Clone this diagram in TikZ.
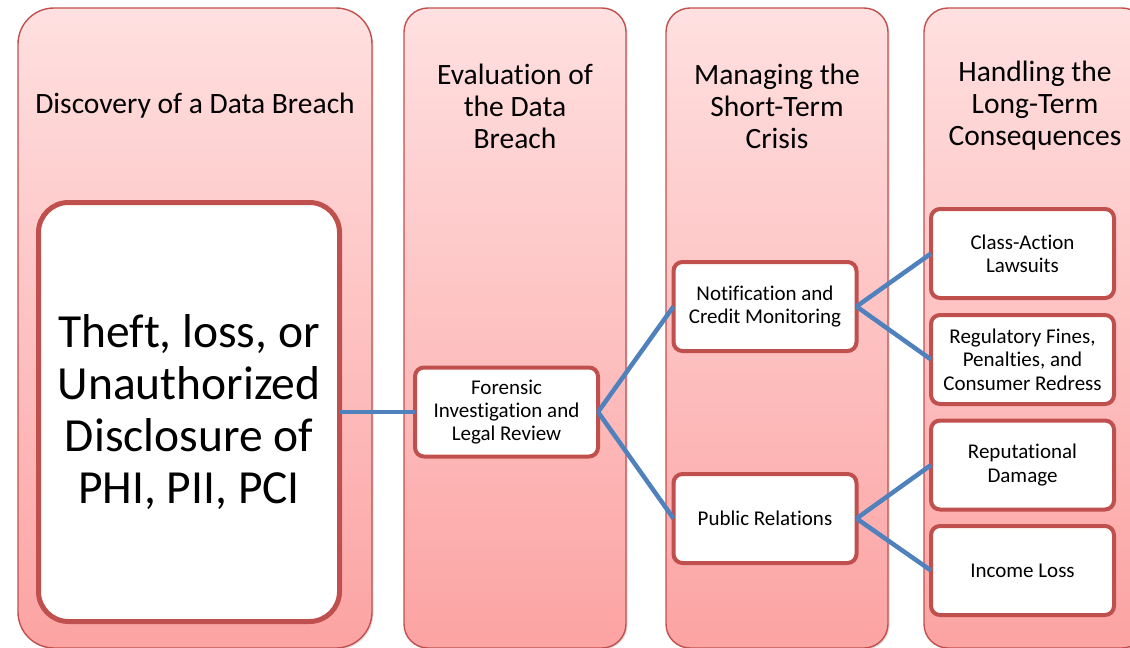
\documentclass[tikz,border=0pt]{standalone}
\usepackage{fontspec}
\setmainfont{Carlito}[Ligatures=CommonOff]
\usetikzlibrary{shadows}
\definecolor{bordred}{HTML}{C0504D}
\definecolor{toppink}{HTML}{FFE0E0}
\definecolor{botpink}{HTML}{FCA3A3}
\definecolor{linkblue}{HTML}{4F81BD}
\tikzset{
  colbox/.style={draw=bordred, line width=1.4pt, top color=toppink, bottom color=botpink,
    rounded corners=24pt, outer sep=0pt, inner sep=0pt,
    drop shadow={opacity=0.25, shadow xshift=1.5pt, shadow yshift=-1.5pt}},
  headtxt/.style={align=center, font=\fontsize{29.5}{32}\selectfont, inner sep=0pt},
  itembox/.style={draw=bordred, line width=4pt, fill=white, rounded corners=9pt,
    minimum width=183pt, minimum height=89pt, align=center, outer sep=0pt,
    font=\fontsize{21}{23.3}\selectfont},
  bigbox/.style={draw=bordred, line width=5pt, fill=white, rounded corners=30pt,
    minimum width=301pt, minimum height=419pt, align=center, outer sep=0pt,
    font=\fontsize{47.5}{52.3}\selectfont},
  link/.style={draw=linkblue, line width=4.5pt}
}
\begin{document}
\begin{tikzpicture}[x=1pt, y=-1pt]
\useasboundingbox (0,0) rectangle (1130,648);
\clip (0,0) rectangle (1130,648);
% columns
\node[colbox, rounded corners=36pt, minimum width=354pt, minimum height=640pt] (c1) at (195,328) {};
\node[colbox, minimum width=222pt, minimum height=640pt] (c2) at (515,328) {};
\node[colbox, minimum width=222pt, minimum height=640pt] (c3) at (777,328) {};
\node[colbox, minimum width=222pt, minimum height=640pt] (c4) at (1035,328) {};
% headers
\node[headtxt] (h1) at (195,106) {Discovery of a Data Breach};
\node[headtxt] (h2) at (515,106) {Evaluation of\\the Data\\Breach};
\node[headtxt] (h3) at (777,106) {Managing the\\Short-Term\\Crisis};
\node[headtxt] (h4) at (1035,106) {Handling the\\Long-Term\\Consequences};
% boxes
\node[bigbox] (theft) at (189,412) {Theft, loss, or\\Unauthorized\\Disclosure of\\PHI, PII, PCI};
\node[itembox] (foren) at (506.5,412) {Forensic\\Investigation and\\Legal Review};
\node[itembox] (notif) at (765,306.5) {Notification and\\Credit Monitoring};
\node[itembox] (pr) at (765,518.5) {Public Relations};
\node[itembox] (class) at (1022.5,253.5) {Class-Action\\Lawsuits};
\node[itembox] (reg) at (1022.5,359.5) {Regulatory Fines,\\Penalties, and\\Consumer Redress};
\node[itembox] (rep) at (1022.5,465) {Reputational\\Damage};
\node[itembox] (inc) at (1022.5,570.5) {Income Loss};
% links
\draw[link] (theft.east) -- (foren.west);
\draw[link] (foren.east) -- (notif.west);
\draw[link] (foren.east) -- (pr.west);
\draw[link] (notif.east) -- (class.west);
\draw[link] (notif.east) -- (reg.west);
\draw[link] (pr.east) -- (rep.west);
\draw[link] (pr.east) -- (inc.west);
\end{tikzpicture}
\end{document}
